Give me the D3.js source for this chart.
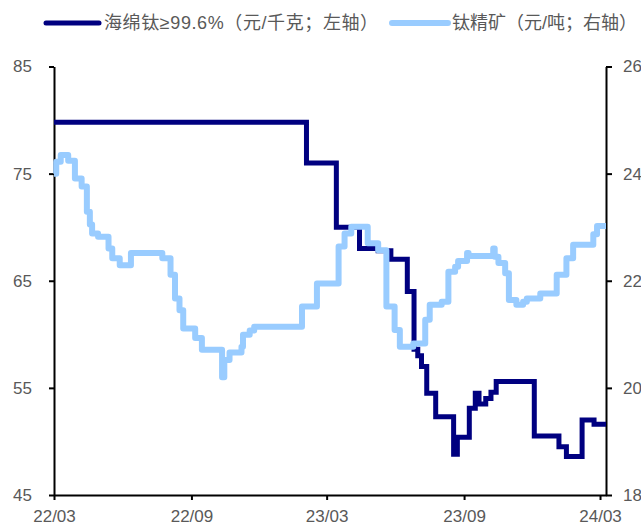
<!DOCTYPE html>
<html>
<head>
<meta charset="utf-8">
<script src="https://cdn.jsdelivr.net/npm/d3@7"></script>
<style>
  html, body { margin: 0; padding: 0; background: #fff; }
  svg text { font-family: "Liberation Sans", Arial, "Noto Sans CJK SC", sans-serif; fill: #595959; }
</style>
</head>
<body>
<svg id="chart" width="641" height="526"></svg>
<script>
// 海绵钛 ≥99.6% price (元/千克), left axis — change points of a step series
const spongeDates = ["2022-03-01","2023-02-02","2023-03-14","2023-04-14","2023-05-09","2023-05-26",
  "2023-06-17","2023-06-26","2023-07-01","2023-07-06","2023-07-13","2023-07-25","2023-08-18",
  "2023-08-23","2023-09-08","2023-09-16","2023-09-21","2023-09-30","2023-10-07","2023-10-14",
  "2023-12-04","2024-01-06","2024-01-16","2024-02-06","2024-02-22","2024-03-09"];
const spongeValues = [79.8,76,70,68,67.8,67,64,58.6,58,57,54.5,52.3,48.8,50.4,53.1,54.5,53.5,54.0,
  54.6,55.6,50.5,49.5,48.6,52.0,51.6,51.6];

// 钛精矿 price (元/吨), right axis
const oreDates = ["2022-03-01","2022-03-04","2022-03-10","2022-03-20","2022-03-29","2022-04-07",
  "2022-04-14","2022-04-18","2022-04-21","2022-04-29","2022-05-13","2022-05-18","2022-05-28",
  "2022-06-12","2022-07-24","2022-08-04","2022-08-10","2022-08-16","2022-08-21","2022-09-06",
  "2022-09-15","2022-10-12","2022-10-15","2022-10-22","2022-11-07","2022-11-09","2022-11-18",
  "2022-11-24","2023-01-27","2023-02-16","2023-03-17","2023-03-25","2023-04-03","2023-04-25",
  "2023-05-09","2023-05-20","2023-05-31","2023-06-07","2023-06-25","2023-07-11","2023-07-17",
  "2023-08-02","2023-08-11","2023-08-20","2023-08-24","2023-09-05","2023-09-07","2023-10-10",
  "2023-10-12","2023-10-17","2023-10-26","2023-10-31","2023-11-10","2023-11-19","2023-11-24",
  "2023-12-12","2024-01-03","2024-01-16","2024-01-25","2024-02-21","2024-02-26","2024-03-09"];
const oreValues = [24.0,24.22,24.35,24.24,23.91,23.76,23.29,23.05,22.88,22.82,22.6,22.42,22.29,
  22.52,22.42,22.11,21.67,21.45,21.11,20.93,20.71,20.2,20.52,20.66,20.77,20.99,21.07,21.14,
  21.52,21.95,22.64,22.88,23.01,22.7,22.57,21.52,21.08,20.77,20.83,21.27,21.55,21.61,22.17,
  22.26,22.37,22.52,22.46,22.6,22.45,22.33,22.14,21.64,21.55,21.61,21.67,21.76,22.11,22.42,
  22.67,22.87,23.02,23.02];

const leftTicks = [45, 55, 65, 75, 85];
const rightTicks = [18, 20, 22, 24, 26];
const xTickDates = ["2022-03-01","2022-09-01","2023-03-01","2023-09-01","2024-03-01"];

const seriesNames = ["海绵钛≥99.6%（元/千克；左轴）", "钛精矿（元/吨；右轴）"];
const seriesColors = ["#000080", "#99CCFF"];

const parse = d3.utcParse("%Y-%m-%d");
const sponge = spongeDates.map((d, i) => ({ date: parse(d), value: spongeValues[i] }));
const ore = oreDates.map((d, i) => ({ date: parse(d), value: oreValues[i] }));

const svg = d3.select("#chart");
const plotLeft = 54, plotRight = 606, plotTop = 66.5, plotBottom = 495;

const x = d3.scaleUtc().domain([parse("2022-03-01"), parse("2024-03-09")]).range([plotLeft, plotRight]);
const yL = d3.scaleLinear().domain([45, 85]).range([plotBottom, plotTop]);
const yR = d3.scaleLinear().domain([18, 26]).range([plotBottom, plotTop]);

const fontSize = 17;

// axes
const gx = svg.append("g").attr("transform", `translate(0,${plotBottom})`)
  .call(d3.axisBottom(x).tickValues(xTickDates.map(parse))
    .tickFormat(d3.utcFormat("%y/%m")).tickSize(5).tickSizeOuter(0).tickPadding(10));
const gl = svg.append("g").attr("transform", `translate(${plotLeft},0)`)
  .call(d3.axisLeft(yL).tickValues(leftTicks).tickSize(5).tickSizeOuter(0).tickPadding(17));
const gr = svg.append("g").attr("transform", `translate(${plotRight},0)`)
  .call(d3.axisRight(yR).tickValues(rightTicks).tickSize(6).tickSizeOuter(0).tickPadding(11));

[gx, gl, gr].forEach(g => {
  g.selectAll("path.domain").attr("stroke", "#000").attr("stroke-width", 2);
  g.selectAll(".tick line").attr("stroke", "#000").attr("stroke-width", 2);
  g.selectAll(".tick text").attr("font-size", fontSize)
    .style("font-family", '"Liberation Sans", Arial, sans-serif').attr("fill", "#595959");
});

// series lines
const lineL = d3.line().x(d => x(d.date)).y(d => yL(d.value)).curve(d3.curveStepAfter);
const lineR = d3.line().x(d => x(d.date)).y(d => yR(d.value)).curve(d3.curveStepAfter);

svg.append("path").datum(sponge).attr("d", lineL)
  .attr("fill", "none").attr("stroke", seriesColors[0]).attr("stroke-width", 5);

svg.append("path").datum(ore).attr("d", lineR)
  .attr("fill", "none").attr("stroke", seriesColors[1]).attr("stroke-width", 6)
  .attr("stroke-linejoin", "round");

// legend
const legendItems = [
  { x1: 46, x2: 99, tx: 104, w: 5, ls: "0.6px" },
  { x1: 392, x2: 448, tx: 452, w: 6, ls: "0px" }
];
const legend = svg.append("g");
legendItems.forEach((it, i) => {
  legend.append("line").attr("x1", it.x1).attr("x2", it.x2).attr("y1", 23).attr("y2", 23)
    .attr("stroke", seriesColors[i]).attr("stroke-width", it.w).attr("stroke-linecap", "round");
  legend.append("text").attr("x", it.tx).attr("y", 23).attr("dy", "0.36em")
    .attr("font-size", 18).attr("letter-spacing", it.ls).text(seriesNames[i]);
});
</script>
</body>
</html>
